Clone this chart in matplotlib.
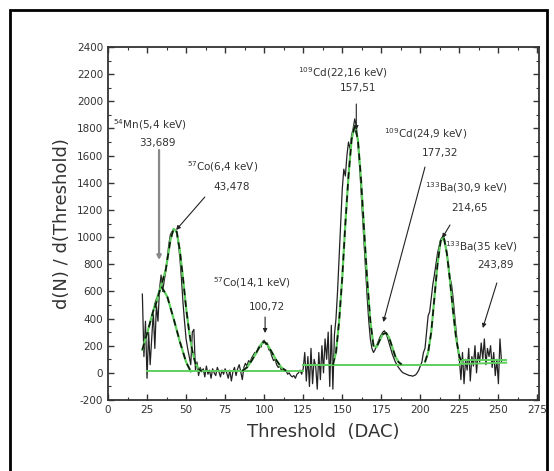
import matplotlib
matplotlib.use("Agg")
import matplotlib.pyplot as plt
import matplotlib.patches as patches
from matplotlib.ticker import MultipleLocator
import numpy as np

plt.rcParams["axes.unicode_minus"] = False

data_x = list(range(22, 253))
data_y = [
    # 22-60
    580, 120, 380, -40, 300, 60, 250, 450, 180, 500, 380, 620, 720, 600, 680,
    750, 850, 950, 1020, 1040, 1060, 1050, 1030, 960, 850, 700, 520, 380, 250,
    180, 120, 60, 300, 320, 20, 80, -20, 40, 10,
    # 61-125
    30, -30, 50, -10, 20, -40, 30, 0, -20, 40, 10, -30, 20, -10, 30, 0, -40,
    20, -60, 10, 40, -20, 30, 60, 10, -50, 40, 70, 50, 90, 80, 110, 130, 150,
    140, 180, 200, 190, 230, 240, 210, 220, 170, 160, 120, 90, 100, 60, 40, 50,
    20, 30, 10, 20, -10, 0, -20, -30, -20, -40, -10, 0, 20, -10, 30,
    # 126-147
    150, -60, 120, -100, 180, -80, 100, 50, -120, 150, -50, 200, 0, 250, 100,
    300, -100, 350, -120, 280, 400, 600,
    # 148-200
    850, 1100, 1350, 1500, 1450, 1600, 1700, 1650, 1750, 1800, 1870, 1820,
    1700, 1550, 1350, 1150, 950, 750, 550, 380, 250, 180, 150, 170, 200, 230,
    260, 280, 300, 310, 290, 260, 220, 180, 140, 110, 80, 60, 40, 25, 10, 0,
    -5, -10, -15, -20, -20, -25, -20, -15, 0, 20, 50,
    # 201-225
    80, 150, 180, 300, 420, 450, 550, 650, 720, 800, 880, 930, 980, 1000, 1010,
    950, 880, 800, 700, 650, 550, 420, 300, 180, 100,
    # 226-252
    -50, 150, -80, 100, 20, 180, -60, 120, 50, 200, 0, 150, 80, 220, 100, 250,
    60, 180, 120, 200, 40, 150, -20, 100, -80, 250, 80,
]

# gaussian fits (green)
fit_lo_x = [22, 26, 30, 34, 37, 40, 42, 44, 46, 48, 50, 52, 54, 56, 58, 60]
fit_lo_y = [170, 330, 500, 640, 760, 980, 1060, 1040, 900, 700, 480, 300, 160, 70, 30, 12]
mn_x = [30, 34, 38, 42, 46, 50, 53]
mn_y = [480, 640, 560, 400, 230, 80, 10]
co14_x = [86, 89, 92, 95, 98, 100, 102, 105, 108, 111, 114]
co14_y = [15, 40, 90, 150, 210, 230, 210, 150, 90, 40, 15]
cd_x = [144, 146, 148, 150, 152, 154, 156, 158, 160, 162, 164, 166, 168, 170,
        172, 174, 176, 178, 180, 182, 184, 186, 188]
cd_y = [60, 150, 380, 700, 1100, 1450, 1720, 1820, 1720, 1430, 1050, 680, 380,
        200, 190, 240, 285, 295, 260, 190, 120, 80, 62]
ba_x = [203, 205, 207, 209, 211, 213, 215, 217, 219, 221, 223, 225, 227]
ba_y = [80, 150, 300, 550, 800, 970, 1000, 880, 680, 450, 250, 120, 70]
base1_x, base1_y = [25, 125], [10, 10]
base2_x, base2_y = [125, 225], [58, 58]
ba35a_x, ba35a_y = [225, 255], [95, 95]
ba35b_x, ba35b_y = [225, 255], [65, 75]

# peak labels: (text, value, text pos, value pos, arrow tail, arrow tip)
labels = [
    (r"$^{54}$Mn(5,4 keV)", "33,689", (2.9, 1825), (31.7, 1692), (32.7, 1641), (32.7, 831)),
    (r"$^{57}$Co(6,4 keV)", "43,478", (50.3, 1516), (79, 1368), (62, 1295), (43.6, 1052)),
    (r"$^{57}$Co(14,1 keV)", "100,72", (67, 662), (101.6, 485), (100.6, 411), (100.6, 293)),
    (r"$^{109}$Cd(22,16 keV)", "157,51", (121.5, 2208), (160, 2097), (159, 1980), (159, 1788)),
    (r"$^{109}$Cd(24,9 keV)", "177,32", (177, 1759), (212.5, 1619), (203, 1516), (176.3, 374)),
    (r"$^{133}$Ba(30,9 keV)", "214,65", (203, 1361), (231.7, 1214), (219, 1089), (214, 993)),
    (r"$^{133}$Ba(35 keV)", "243,89", (215.7, 927), (248.4, 794), (249, 662), (240, 330)),
]

green = "#5ed05e"
txt = "#333333"

fig = plt.figure(figsize=(5.54, 4.71), dpi=100)
ax = fig.add_axes([108 / 554, 71 / 471, 431 / 554, 353 / 471])

ax.plot(data_x, data_y, color="#222222", lw=0.9)

for fx, fy in [(base1_x, base1_y), (base2_x, base2_y), (ba35a_x, ba35a_y), (ba35b_x, ba35b_y)]:
    ax.plot(fx, fy, color=green, lw=1.4)
for fx, fy in [(fit_lo_x, fit_lo_y), (mn_x, mn_y), (co14_x, co14_y), (cd_x, cd_y), (ba_x, ba_y)]:
    ax.plot(fx, fy, color=green, lw=1.6)
    ax.plot(fx, fy, color="#111111", lw=1.2, dashes=(4, 3))

for i, (name, val, tpos, vpos, tail, tip) in enumerate(labels):
    ax.text(tpos[0], tpos[1], name, fontsize=7.5, color=txt, ha="left", va="center")
    ax.text(vpos[0], vpos[1], val, fontsize=7.5, color=txt, ha="center", va="center")
    # the first marker line is drawn thicker and grey in the original
    lc, lw = ("#888888", 1.6) if i == 0 else ("#222222", 0.8)
    ax.annotate("", xy=tip, xytext=tail,
                arrowprops=dict(arrowstyle="-|>", color=lc, lw=lw,
                                mutation_scale=6, shrinkA=0, shrinkB=0))

ax.set_xlim(0, 276)
ax.set_ylim(-200, 2400)
ax.xaxis.set_major_locator(MultipleLocator(25))
ax.xaxis.set_minor_locator(MultipleLocator(12.5))
ax.yaxis.set_major_locator(MultipleLocator(200))
ax.yaxis.set_minor_locator(MultipleLocator(100))
ax.tick_params(which="both", direction="in", top=True, right=True, colors="#333333",
               labelsize=7.5, labelcolor=txt)
ax.tick_params(which="major", length=4, width=1)
ax.tick_params(which="minor", length=2, width=0.8)
for s in ax.spines.values():
    s.set_linewidth(1.3)
    s.set_color("#333333")

ax.set_xlabel("Threshold  (DAC)", fontsize=13, color=txt, labelpad=6)
ax.set_ylabel("d(N) / d(Threshold)", fontsize=13, color=txt, labelpad=4)

# outer frame around the whole figure
fig.patches.append(patches.Rectangle((10 / 554, -0.05), 537 / 554, 1.05 - 10 / 471,
                                     transform=fig.transFigure, fill=False,
                                     edgecolor="black", lw=2, clip_on=False))

fig.savefig("out.png", dpi=100)
